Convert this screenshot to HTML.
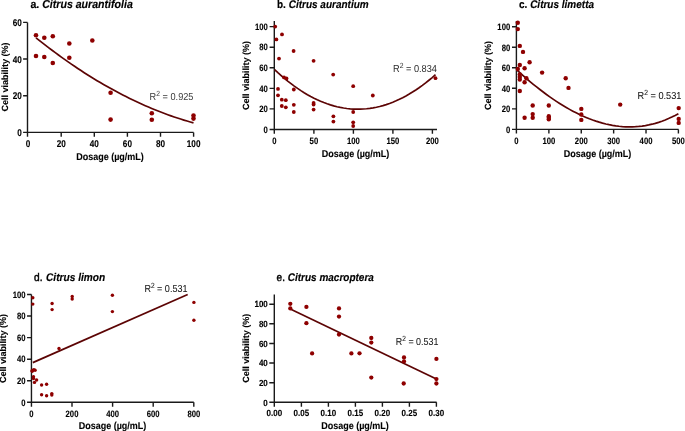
<!DOCTYPE html>
<html><head><meta charset="utf-8"><style>
html,body{margin:0;padding:0;background:#fff;width:685px;height:431px;overflow:hidden}
svg{display:block;will-change:transform}
text{font-family:"Liberation Sans",sans-serif;text-rendering:geometricPrecision}
.tk{font-weight:bold;fill:#000;stroke:#000;stroke-width:0.1px}
.at{font-weight:bold;fill:#000;stroke:#000;stroke-width:0.1px}
.ti{font-weight:bold;fill:#000;stroke:#000;stroke-width:0.15px}
.r2{fill:#141414;stroke:#141414;stroke-width:0.05px}
circle{fill:#8e0000}
</style></head><body>
<svg width="685" height="431" viewBox="0 0 685 431">
<rect width="685" height="431" fill="#fff"/>
<path d="M27.5 22.4V132.4H193.6" fill="none" stroke="#1a1a1a" stroke-width="1.4"/>
<path d="M23.1 132.4H27.5M23.1 95.73H27.5M23.1 59.07H27.5M23.1 22.4H27.5M27.5 132.4V136.8M61.2 132.4V136.8M94.3 132.4V136.8M127.4 132.4V136.8M160.5 132.4V136.8M193.6 132.4V136.8" fill="none" stroke="#1a1a1a" stroke-width="1.4"/>
<text transform="translate(21.9 135.92) scale(1 1.2)" text-anchor="end" class="tk" style="font-size:8.2px">0</text>
<text transform="translate(21.9 99.26) scale(1 1.2)" text-anchor="end" class="tk" style="font-size:8.2px">20</text>
<text transform="translate(21.9 62.59) scale(1 1.2)" text-anchor="end" class="tk" style="font-size:8.2px">40</text>
<text transform="translate(21.9 25.92) scale(1 1.2)" text-anchor="end" class="tk" style="font-size:8.2px">60</text>
<text transform="translate(28.1 146.95) scale(1 1.2)" text-anchor="middle" class="tk" style="font-size:8.2px">0</text>
<text transform="translate(61.2 146.95) scale(1 1.2)" text-anchor="middle" class="tk" style="font-size:8.2px">20</text>
<text transform="translate(94.3 146.95) scale(1 1.2)" text-anchor="middle" class="tk" style="font-size:8.2px">40</text>
<text transform="translate(127.4 146.95) scale(1 1.2)" text-anchor="middle" class="tk" style="font-size:8.2px">60</text>
<text transform="translate(160.5 146.95) scale(1 1.2)" text-anchor="middle" class="tk" style="font-size:8.2px">80</text>
<text transform="translate(193.6 146.95) scale(1 1.2)" text-anchor="middle" class="tk" style="font-size:8.2px">100</text>
<text transform="translate(110 160) scale(1 1.1)" text-anchor="middle" class="at" style="font-size:9px">Dosage (µg/mL)</text>
<text transform="translate(7.6 77) rotate(-90)" text-anchor="middle" class="at" style="font-size:9px">Cell viability (%)</text>
<text transform="translate(30.4 7.8) scale(1 1.1)" class="ti" style="font-size:10.6px"><tspan font-weight="bold" stroke-width="0.15">a. </tspan><tspan font-style="italic" dx="0">Citrus aurantifolia</tspan></text>
<path d="M36.00 37.80 L39.21 40.37 L42.43 42.90 L45.64 45.40 L48.86 47.86 L52.07 50.29 L55.29 52.68 L58.50 55.04 L61.71 57.36 L64.93 59.65 L68.14 61.91 L71.36 64.13 L74.57 66.32 L77.79 68.47 L81.00 70.58 L84.21 72.67 L87.43 74.72 L90.64 76.73 L93.86 78.71 L97.07 80.65 L100.29 82.56 L103.50 84.44 L106.71 86.28 L109.93 88.08 L113.14 89.85 L116.36 91.59 L119.57 93.29 L122.79 94.96 L126.00 96.59 L129.21 98.19 L132.43 99.76 L135.64 101.28 L138.86 102.78 L142.07 104.24 L145.29 105.67 L148.50 107.06 L151.71 108.41 L154.93 109.73 L158.14 111.02 L161.36 112.27 L164.57 113.49 L167.79 114.68 L171.00 115.83 L174.21 116.94 L177.43 118.02 L180.64 119.06 L183.86 120.08 L187.07 121.05 L190.29 121.99 L193.50 122.90" fill="none" stroke="#5c0404" stroke-width="1.7"/>
<circle cx="36" cy="35.3" r="2.3"/>
<circle cx="44.3" cy="37.8" r="2.3"/>
<circle cx="52.8" cy="36.3" r="2.3"/>
<circle cx="69.3" cy="43.5" r="2.3"/>
<circle cx="92.3" cy="40.5" r="2.3"/>
<circle cx="36" cy="56" r="2.3"/>
<circle cx="44.3" cy="57" r="2.3"/>
<circle cx="52.8" cy="63" r="2.3"/>
<circle cx="69.3" cy="57.8" r="2.3"/>
<circle cx="110.6" cy="92.8" r="2.3"/>
<circle cx="110.6" cy="119.6" r="2.3"/>
<circle cx="151.8" cy="113.3" r="2.3"/>
<circle cx="151.8" cy="119.8" r="2.3"/>
<circle cx="193.5" cy="115.6" r="2.3"/>
<circle cx="193.5" cy="118.6" r="2.3"/>
<text transform="translate(149.6 100) scale(1.0 1.1)" class="r2" style="font-size:9.2px;fill:#3c3c3c;stroke:none">R<tspan dy="-3.68" style="font-size:6.81px">2</tspan><tspan dy="3.68"> = 0.925</tspan></text>
<path d="M274.3 21V129.5H437" fill="none" stroke="#1a1a1a" stroke-width="1.4"/>
<path d="M269.6 129.5H274.3M269.6 108.92H274.3M269.6 88.34H274.3M269.6 67.76H274.3M269.6 47.18H274.3M269.6 26.6H274.3M274.3 129.5V133.8M313.9 129.5V133.8M353.4 129.5V133.8M392.9 129.5V133.8M432.4 129.5V133.8" fill="none" stroke="#1a1a1a" stroke-width="1.4"/>
<text transform="translate(267.9 132.81) scale(1 1.2)" text-anchor="end" class="tk" style="font-size:7.7px">0</text>
<text transform="translate(267.9 112.23) scale(1 1.2)" text-anchor="end" class="tk" style="font-size:7.7px">20</text>
<text transform="translate(267.9 91.65) scale(1 1.2)" text-anchor="end" class="tk" style="font-size:7.7px">40</text>
<text transform="translate(267.9 71.07) scale(1 1.2)" text-anchor="end" class="tk" style="font-size:7.7px">60</text>
<text transform="translate(267.9 50.49) scale(1 1.2)" text-anchor="end" class="tk" style="font-size:7.7px">80</text>
<text transform="translate(267.9 29.91) scale(1 1.2)" text-anchor="end" class="tk" style="font-size:7.7px">100</text>
<text transform="translate(274.4 144.02) scale(1 1.2)" text-anchor="middle" class="tk" style="font-size:7.7px">0</text>
<text transform="translate(313.9 144.02) scale(1 1.2)" text-anchor="middle" class="tk" style="font-size:7.7px">50</text>
<text transform="translate(353.4 144.02) scale(1 1.2)" text-anchor="middle" class="tk" style="font-size:7.7px">100</text>
<text transform="translate(392.9 144.02) scale(1 1.2)" text-anchor="middle" class="tk" style="font-size:7.7px">150</text>
<text transform="translate(432.4 144.02) scale(1 1.2)" text-anchor="middle" class="tk" style="font-size:7.7px">200</text>
<text transform="translate(355.5 156.6) scale(1 1.1)" text-anchor="middle" class="at" style="font-size:9px">Dosage (µg/mL)</text>
<text transform="translate(249 75.6) rotate(-90)" text-anchor="middle" class="at" style="font-size:9px">Cell viability (%)</text>
<text transform="translate(277 7.6) scale(1 1.1)" class="ti" style="font-size:10px"><tspan font-weight="bold" stroke-width="0.15">b. </tspan><tspan font-style="italic" dx="0">Citrus aurantium</tspan></text>
<path d="M274.60 69.55 L277.88 72.62 L281.17 75.56 L284.45 78.38 L287.73 81.08 L291.02 83.65 L294.30 86.10 L297.59 88.42 L300.87 90.62 L304.15 92.70 L307.44 94.66 L310.72 96.49 L314.00 98.20 L317.29 99.78 L320.57 101.25 L323.86 102.58 L327.14 103.80 L330.42 104.89 L333.71 105.86 L336.99 106.71 L340.27 107.43 L343.56 108.03 L346.84 108.50 L350.12 108.85 L353.41 109.08 L356.69 109.19 L359.98 109.17 L363.26 109.02 L366.54 108.76 L369.83 108.37 L373.11 107.86 L376.39 107.22 L379.68 106.46 L382.96 105.58 L386.24 104.58 L389.53 103.45 L392.81 102.20 L396.10 100.82 L399.38 99.32 L402.66 97.70 L405.95 95.95 L409.23 94.08 L412.51 92.09 L415.80 89.98 L419.08 87.74 L422.37 85.37 L425.65 82.89 L428.93 80.28 L432.22 77.55 L435.50 74.69" fill="none" stroke="#5c0404" stroke-width="1.7"/>
<circle cx="275.2" cy="26.6" r="1.9"/>
<circle cx="282" cy="34.4" r="1.9"/>
<circle cx="276.4" cy="39.4" r="1.9"/>
<circle cx="279" cy="58.6" r="1.9"/>
<circle cx="293.6" cy="51" r="1.9"/>
<circle cx="313.6" cy="60.8" r="1.9"/>
<circle cx="333.2" cy="74.6" r="1.9"/>
<circle cx="353.2" cy="86.2" r="1.9"/>
<circle cx="284" cy="77.4" r="1.9"/>
<circle cx="286.5" cy="78.4" r="1.9"/>
<circle cx="278" cy="88.9" r="1.9"/>
<circle cx="293.8" cy="89.5" r="1.9"/>
<circle cx="372.8" cy="95.5" r="1.9"/>
<circle cx="278" cy="95.3" r="1.9"/>
<circle cx="281.8" cy="99.7" r="1.9"/>
<circle cx="285.8" cy="100.2" r="1.9"/>
<circle cx="313.6" cy="103" r="1.9"/>
<circle cx="313.6" cy="104.6" r="1.9"/>
<circle cx="293.8" cy="104.8" r="1.9"/>
<circle cx="281.8" cy="106" r="1.9"/>
<circle cx="285.8" cy="107.3" r="1.9"/>
<circle cx="313.6" cy="109.6" r="1.9"/>
<circle cx="293.8" cy="112" r="1.9"/>
<circle cx="353.2" cy="112" r="1.9"/>
<circle cx="333.4" cy="116.3" r="1.9"/>
<circle cx="333.4" cy="121.6" r="1.9"/>
<circle cx="353.2" cy="122.3" r="1.9"/>
<circle cx="353.2" cy="126" r="1.9"/>
<circle cx="435.5" cy="78.2" r="1.9"/>
<text transform="translate(393 71.6) scale(1.0 1.1)" class="r2" style="font-size:9.2px;fill:#2c2c2c;stroke:none">R<tspan dy="-3.68" style="font-size:6.81px">2</tspan><tspan dy="3.68"> = 0.834</tspan></text>
<path d="M516.4 21V129.4H678.6" fill="none" stroke="#1a1a1a" stroke-width="1.4"/>
<path d="M512 129.4H516.4M512 108.86H516.4M512 88.32H516.4M512 67.78H516.4M512 47.24H516.4M512 26.7H516.4M516.4 129.4V133.6M548.88 129.4V133.6M581.26 129.4V133.6M613.64 129.4V133.6M646.02 129.4V133.6M678.4 129.4V133.6" fill="none" stroke="#1a1a1a" stroke-width="1.4"/>
<text transform="translate(510.2 132.71) scale(1 1.2)" text-anchor="end" class="tk" style="font-size:7.7px">0</text>
<text transform="translate(510.2 112.17) scale(1 1.2)" text-anchor="end" class="tk" style="font-size:7.7px">20</text>
<text transform="translate(510.2 91.63) scale(1 1.2)" text-anchor="end" class="tk" style="font-size:7.7px">40</text>
<text transform="translate(510.2 71.09) scale(1 1.2)" text-anchor="end" class="tk" style="font-size:7.7px">60</text>
<text transform="translate(510.2 50.55) scale(1 1.2)" text-anchor="end" class="tk" style="font-size:7.7px">80</text>
<text transform="translate(510.2 30.01) scale(1 1.2)" text-anchor="end" class="tk" style="font-size:7.7px">100</text>
<text transform="translate(516.5 143.72) scale(1 1.2)" text-anchor="middle" class="tk" style="font-size:7.7px">0</text>
<text transform="translate(548.88 143.72) scale(1 1.2)" text-anchor="middle" class="tk" style="font-size:7.7px">100</text>
<text transform="translate(581.26 143.72) scale(1 1.2)" text-anchor="middle" class="tk" style="font-size:7.7px">200</text>
<text transform="translate(613.64 143.72) scale(1 1.2)" text-anchor="middle" class="tk" style="font-size:7.7px">300</text>
<text transform="translate(646.02 143.72) scale(1 1.2)" text-anchor="middle" class="tk" style="font-size:7.7px">400</text>
<text transform="translate(678.4 143.72) scale(1 1.2)" text-anchor="middle" class="tk" style="font-size:7.7px">500</text>
<text transform="translate(597.5 156.6) scale(1 1.1)" text-anchor="middle" class="at" style="font-size:9px">Dosage (µg/mL)</text>
<text transform="translate(491 75.6) rotate(-90)" text-anchor="middle" class="at" style="font-size:9px">Cell viability (%)</text>
<text transform="translate(519 7.6) scale(1 1.1)" class="ti" style="font-size:10px"><tspan font-weight="bold" stroke-width="0.15">c. </tspan><tspan font-style="italic" dx="0">Citrus limetta</tspan></text>
<path d="M516.80 69.96 L520.10 72.96 L523.40 75.89 L526.69 78.76 L529.99 81.56 L533.29 84.29 L536.59 86.95 L539.89 89.54 L543.18 92.05 L546.48 94.50 L549.78 96.86 L553.08 99.15 L556.38 101.36 L559.67 103.49 L562.97 105.53 L566.27 107.49 L569.57 109.37 L572.87 111.16 L576.16 112.86 L579.46 114.48 L582.76 116.00 L586.06 117.42 L589.36 118.76 L592.65 120.00 L595.95 121.14 L599.25 122.18 L602.55 123.12 L605.84 123.96 L609.14 124.70 L612.44 125.33 L615.74 125.86 L619.04 126.28 L622.33 126.59 L625.63 126.78 L628.93 126.87 L632.23 126.84 L635.53 126.70 L638.82 126.44 L642.12 126.06 L645.42 125.56 L648.72 124.94 L652.02 124.20 L655.31 123.33 L658.61 122.34 L661.91 121.22 L665.21 119.97 L668.51 118.59 L671.80 117.08 L675.10 115.44 L678.40 113.66" fill="none" stroke="#5c0404" stroke-width="1.7"/>
<circle cx="517.8" cy="22.8" r="2.2"/>
<circle cx="517.8" cy="29.1" r="2.2"/>
<circle cx="519.8" cy="45.9" r="2.2"/>
<circle cx="523" cy="51.9" r="2.2"/>
<circle cx="529.6" cy="62.2" r="2.2"/>
<circle cx="519.8" cy="65" r="2.2"/>
<circle cx="524.6" cy="68.2" r="2.2"/>
<circle cx="517.8" cy="69" r="2.2"/>
<circle cx="542.1" cy="72.6" r="2.2"/>
<circle cx="519.8" cy="74.4" r="2.2"/>
<circle cx="519.8" cy="77" r="2.2"/>
<circle cx="526.4" cy="78.2" r="2.2"/>
<circle cx="524.6" cy="82.2" r="2.2"/>
<circle cx="565.7" cy="78.2" r="2.2"/>
<circle cx="568.5" cy="87.9" r="2.2"/>
<circle cx="519.8" cy="91" r="2.2"/>
<circle cx="532.7" cy="105.5" r="2.2"/>
<circle cx="548.8" cy="105.5" r="2.2"/>
<circle cx="524.6" cy="117.7" r="2.2"/>
<circle cx="532.7" cy="114.1" r="2.2"/>
<circle cx="532.7" cy="117.7" r="2.2"/>
<circle cx="548.8" cy="116.2" r="2.2"/>
<circle cx="548.8" cy="117.7" r="2.2"/>
<circle cx="548.8" cy="119.2" r="2.2"/>
<circle cx="581.3" cy="108.9" r="2.2"/>
<circle cx="581.3" cy="114.5" r="2.2"/>
<circle cx="581.3" cy="119.9" r="2.2"/>
<circle cx="620.2" cy="104.6" r="2.2"/>
<circle cx="678.7" cy="108.1" r="2.2"/>
<circle cx="678.7" cy="118.9" r="2.2"/>
<circle cx="678.7" cy="122.9" r="2.2"/>
<circle cx="519.8" cy="79.5" r="2.2"/>
<text transform="translate(637.5 98.8) scale(1.0 1.1)" class="r2" style="font-size:9.2px;">R<tspan dy="-3.68" style="font-size:6.81px">2</tspan><tspan dy="3.68"> = 0.531</tspan></text>
<path d="M31.45 294.5V402.3H193.8" fill="none" stroke="#1a1a1a" stroke-width="1.4"/>
<path d="M27.05 402.3H31.45M27.05 380.74H31.45M27.05 359.18H31.45M27.05 337.62H31.45M27.05 316.06H31.45M27.05 294.5H31.45M31.45 402.3V406.8M72 402.3V406.8M112.6 402.3V406.8M153.2 402.3V406.8M193.8 402.3V406.8" fill="none" stroke="#1a1a1a" stroke-width="1.4"/>
<text transform="translate(25.6 405.61) scale(1 1.2)" text-anchor="end" class="tk" style="font-size:7.7px">0</text>
<text transform="translate(25.6 384.05) scale(1 1.2)" text-anchor="end" class="tk" style="font-size:7.7px">20</text>
<text transform="translate(25.6 362.49) scale(1 1.2)" text-anchor="end" class="tk" style="font-size:7.7px">40</text>
<text transform="translate(25.6 340.93) scale(1 1.2)" text-anchor="end" class="tk" style="font-size:7.7px">60</text>
<text transform="translate(25.6 319.37) scale(1 1.2)" text-anchor="end" class="tk" style="font-size:7.7px">80</text>
<text transform="translate(25.6 297.81) scale(1 1.2)" text-anchor="end" class="tk" style="font-size:7.7px">100</text>
<text transform="translate(31.4 417.42) scale(1 1.2)" text-anchor="middle" class="tk" style="font-size:7.7px">0</text>
<text transform="translate(72 417.42) scale(1 1.2)" text-anchor="middle" class="tk" style="font-size:7.7px">200</text>
<text transform="translate(112.6 417.42) scale(1 1.2)" text-anchor="middle" class="tk" style="font-size:7.7px">400</text>
<text transform="translate(153.2 417.42) scale(1 1.2)" text-anchor="middle" class="tk" style="font-size:7.7px">600</text>
<text transform="translate(193.8 417.42) scale(1 1.2)" text-anchor="middle" class="tk" style="font-size:7.7px">800</text>
<text transform="translate(112.5 429.4) scale(1 1.1)" text-anchor="middle" class="at" style="font-size:9px">Dosage (µg/mL)</text>
<text transform="translate(6.4 348.5) rotate(-90)" text-anchor="middle" class="at" style="font-size:9px">Cell viability (%)</text>
<text transform="translate(34 280.5) scale(1 1.1)" class="ti" style="font-size:10.15px"><tspan font-weight="normal" stroke-width="0.4">d. </tspan><tspan font-style="italic" dx="0.8">Citrus limon</tspan></text>
<path d="M32.8 362.6L187.7 294.5" fill="none" stroke="#5c0404" stroke-width="1.7"/>
<circle cx="32.8" cy="297.8" r="1.7"/>
<circle cx="32.8" cy="304.1" r="1.7"/>
<circle cx="52.1" cy="303.5" r="1.7"/>
<circle cx="52.1" cy="309.6" r="1.7"/>
<circle cx="72.2" cy="296.5" r="1.7"/>
<circle cx="72.2" cy="299" r="1.7"/>
<circle cx="112.4" cy="295.3" r="1.7"/>
<circle cx="112.4" cy="311.6" r="1.7"/>
<circle cx="59" cy="348.5" r="1.7"/>
<circle cx="32.2" cy="370.4" r="1.7"/>
<circle cx="33.8" cy="369.6" r="1.7"/>
<circle cx="35.1" cy="370.2" r="1.7"/>
<circle cx="32.2" cy="371.3" r="1.7"/>
<circle cx="33.5" cy="376.7" r="1.7"/>
<circle cx="33.5" cy="378.6" r="1.7"/>
<circle cx="36.6" cy="380" r="1.7"/>
<circle cx="34.5" cy="382.4" r="1.7"/>
<circle cx="41.6" cy="385" r="1.7"/>
<circle cx="46.6" cy="384.3" r="1.7"/>
<circle cx="41.6" cy="394.8" r="1.7"/>
<circle cx="46.6" cy="395.7" r="1.7"/>
<circle cx="51.8" cy="393.6" r="1.7"/>
<circle cx="51.8" cy="395" r="1.7"/>
<circle cx="193.9" cy="302.4" r="1.7"/>
<circle cx="193.9" cy="320.3" r="1.7"/>
<text transform="translate(144.4 291.6) scale(0.98 1.1)" class="r2" style="font-size:9.2px;">R<tspan dy="-3.68" style="font-size:6.81px">2</tspan><tspan dy="3.68"> = 0.531</tspan></text>
<path d="M274.3 294.4V402.3H436.6" fill="none" stroke="#1a1a1a" stroke-width="1.4"/>
<path d="M269.3 402.3H274.3M269.3 382.68H274.3M269.3 363.06H274.3M269.3 343.44H274.3M269.3 323.82H274.3M269.3 304.2H274.3M274.3 402.3V406.8M301.4 402.3V406.8M328.4 402.3V406.8M355.4 402.3V406.8M382.4 402.3V406.8M409.4 402.3V406.8M436.4 402.3V406.8" fill="none" stroke="#1a1a1a" stroke-width="1.4"/>
<text transform="translate(267.8 405.51) scale(1 1.12)" text-anchor="end" class="tk" style="font-size:8.0px">0</text>
<text transform="translate(267.8 385.89) scale(1 1.12)" text-anchor="end" class="tk" style="font-size:8.0px">20</text>
<text transform="translate(267.8 366.27) scale(1 1.12)" text-anchor="end" class="tk" style="font-size:8.0px">40</text>
<text transform="translate(267.8 346.65) scale(1 1.12)" text-anchor="end" class="tk" style="font-size:8.0px">60</text>
<text transform="translate(267.8 327.03) scale(1 1.12)" text-anchor="end" class="tk" style="font-size:8.0px">80</text>
<text transform="translate(267.8 307.41) scale(1 1.12)" text-anchor="end" class="tk" style="font-size:8.0px">100</text>
<text transform="translate(274.4 416.42) scale(1 1.12)" text-anchor="middle" class="tk" style="font-size:8.0px">0.00</text>
<text transform="translate(301.4 416.42) scale(1 1.12)" text-anchor="middle" class="tk" style="font-size:8.0px">0.05</text>
<text transform="translate(328.4 416.42) scale(1 1.12)" text-anchor="middle" class="tk" style="font-size:8.0px">0.10</text>
<text transform="translate(355.4 416.42) scale(1 1.12)" text-anchor="middle" class="tk" style="font-size:8.0px">0.15</text>
<text transform="translate(382.4 416.42) scale(1 1.12)" text-anchor="middle" class="tk" style="font-size:8.0px">0.20</text>
<text transform="translate(409.4 416.42) scale(1 1.12)" text-anchor="middle" class="tk" style="font-size:8.0px">0.25</text>
<text transform="translate(436.4 416.42) scale(1 1.12)" text-anchor="middle" class="tk" style="font-size:8.0px">0.30</text>
<text transform="translate(355 429.4) scale(1 1.1)" text-anchor="middle" class="at" style="font-size:9px">Dosage (µg/mL)</text>
<text transform="translate(249 348.3) rotate(-90)" text-anchor="middle" class="at" style="font-size:9px">Cell viability (%)</text>
<text transform="translate(276.6 280.7) scale(1 1.1)" class="ti" style="font-size:10px"><tspan font-weight="normal" stroke-width="0.4">e. </tspan><tspan font-style="italic" dx="0">Citrus macroptera</tspan></text>
<path d="M290.3 309.1L436.4 379.1" fill="none" stroke="#5c0404" stroke-width="1.7"/>
<circle cx="290.3" cy="303.8" r="2.15"/>
<circle cx="290.3" cy="308.4" r="2.15"/>
<circle cx="306.4" cy="306.9" r="2.15"/>
<circle cx="306.4" cy="323.2" r="2.15"/>
<circle cx="339" cy="308.4" r="2.15"/>
<circle cx="339" cy="316.6" r="2.15"/>
<circle cx="339" cy="334.5" r="2.15"/>
<circle cx="371.3" cy="338" r="2.15"/>
<circle cx="371.3" cy="342.6" r="2.15"/>
<circle cx="359.5" cy="353.3" r="2.15"/>
<circle cx="404" cy="357.4" r="2.15"/>
<circle cx="404" cy="361.4" r="2.15"/>
<circle cx="436.4" cy="358.9" r="2.15"/>
<circle cx="312.1" cy="353.4" r="2.15"/>
<circle cx="351.4" cy="353.4" r="2.15"/>
<circle cx="371.3" cy="377.6" r="2.15"/>
<circle cx="403.7" cy="383.5" r="2.15"/>
<circle cx="436.4" cy="379.1" r="2.15"/>
<circle cx="436.4" cy="383.5" r="2.15"/>
<text transform="translate(395.8 344.6) scale(0.97 1.1)" class="r2" style="font-size:9.2px;">R<tspan dy="-3.68" style="font-size:6.81px">2</tspan><tspan dy="3.68"> = 0.531</tspan></text>
</svg>
</body></html>
